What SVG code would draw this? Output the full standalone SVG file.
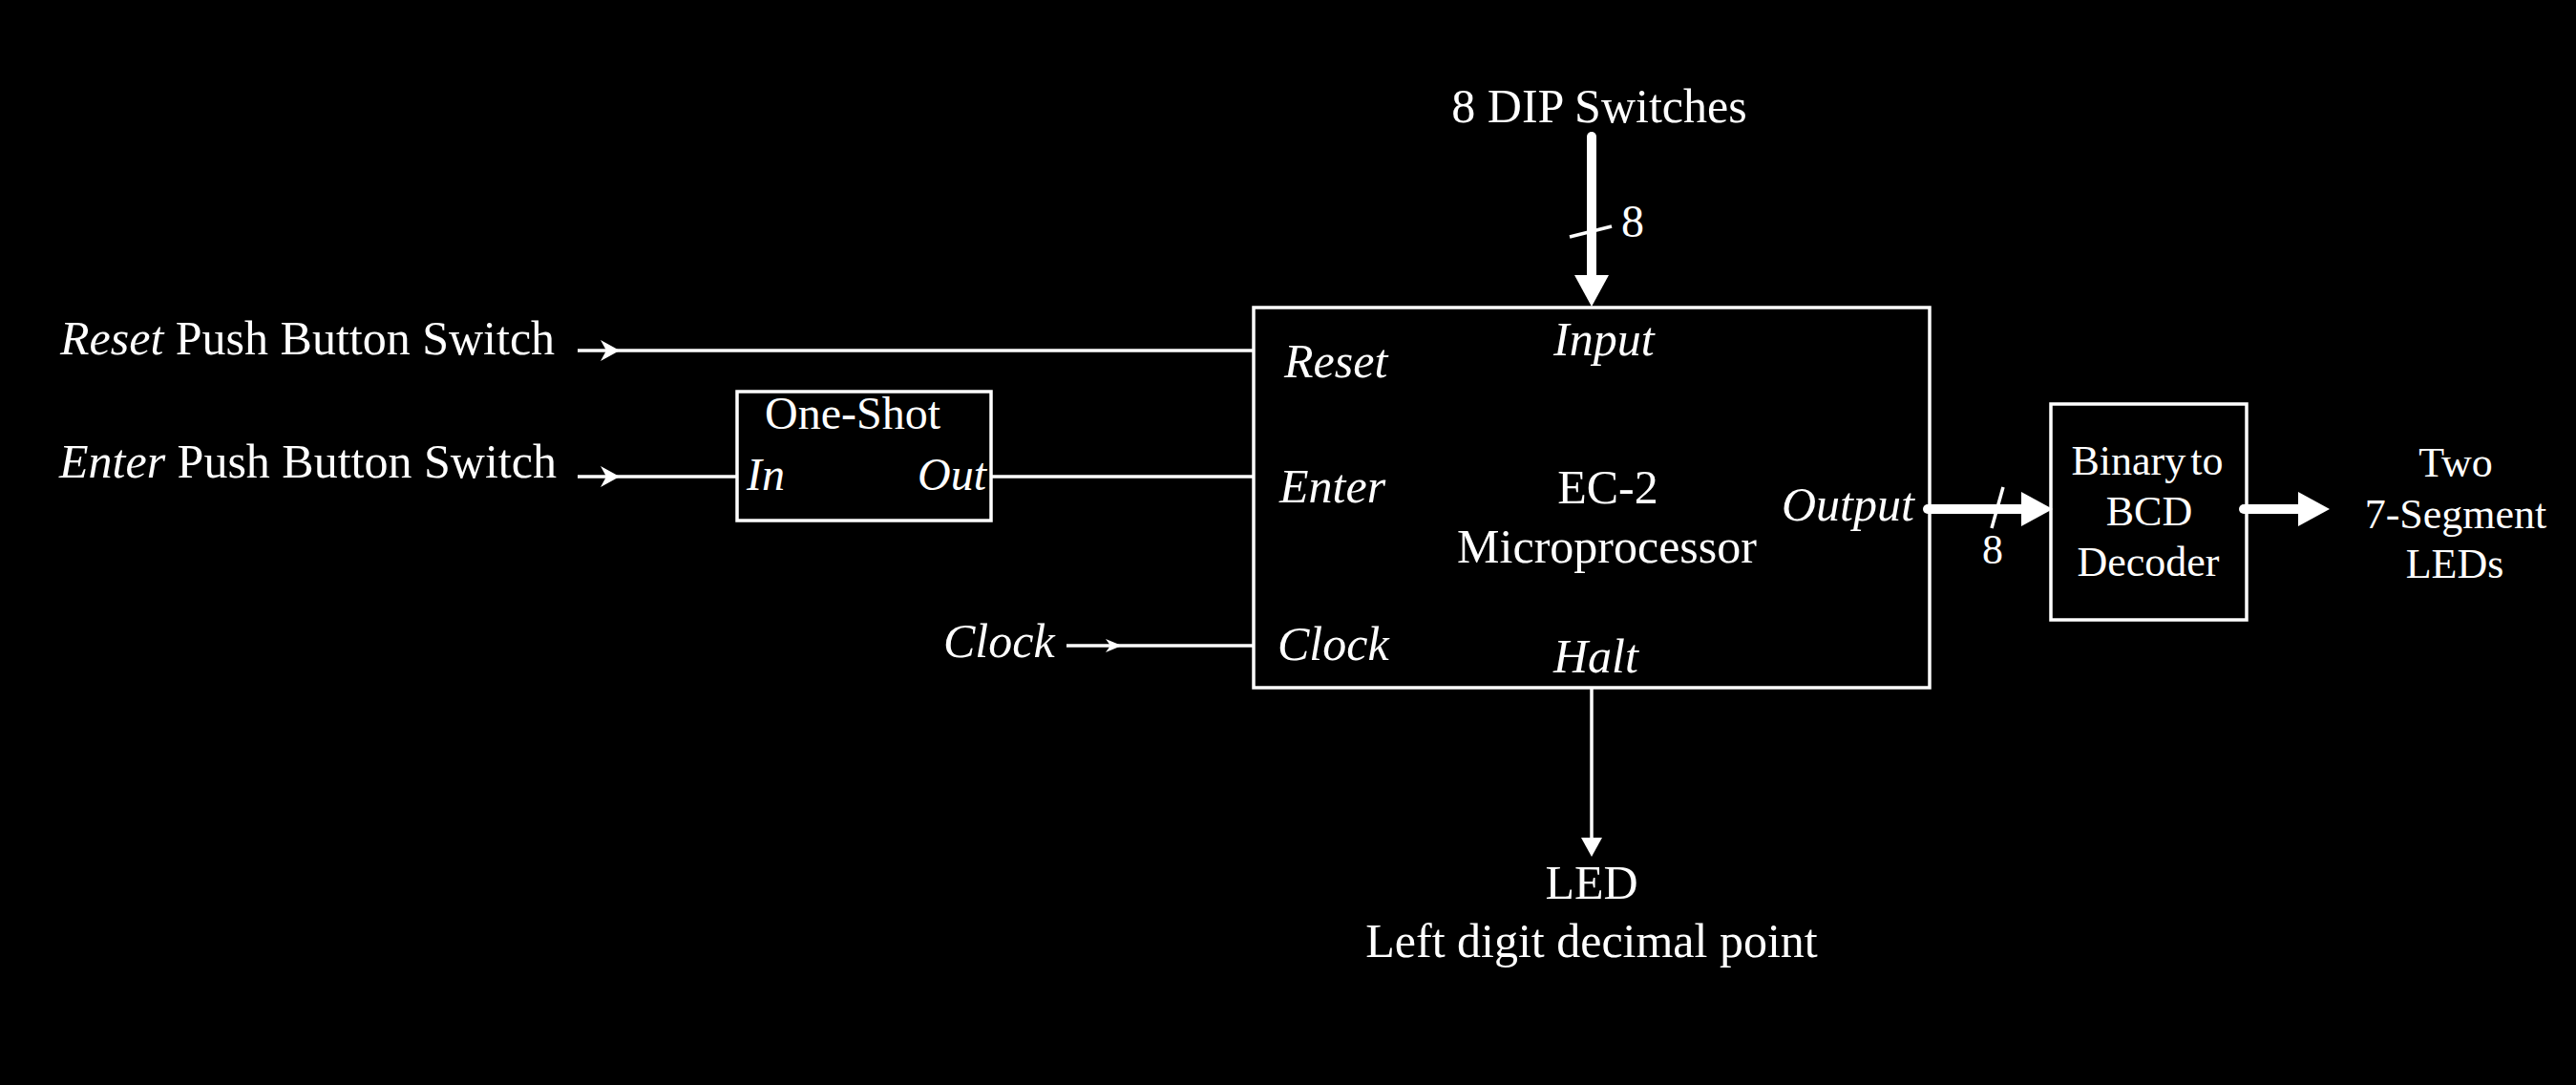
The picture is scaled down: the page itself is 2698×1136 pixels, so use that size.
<svg xmlns="http://www.w3.org/2000/svg" xmlns:xlink="http://www.w3.org/1999/xlink" width="2698" height="1136" viewBox="0 0 2698 1136">
<style>
  text { font-family: "Liberation Serif", "Times New Roman", serif; fill: #ffffff; font-size: 50px; }
  .it { font-style: italic; }
  .mid { text-anchor: middle; }
  .sm { font-size: 44px; }
  .md { font-size: 48px; }
  .box { fill: none; stroke: #ffffff; stroke-width: 3.5; }
  .wire { fill: none; stroke: #ffffff; stroke-width: 3.5; }
  .bus { fill: none; stroke: #ffffff; stroke-width: 10; stroke-linecap: round; }
  .head { fill: #ffffff; stroke: none; }
</style>
<defs>
  <path id="arrS" d="M0,0 L-20,-11 L-14,0 L-20,11 Z"/>
  <path id="arrC" d="M0,0 L-17,-7 L-12,0 L-17,7 Z"/>
  <path id="arrB" d="M0,0 L-33,-18 L-33,18 Z"/>
  <path id="arrT" d="M0,0 L-20,-11 L-20,11 Z"/>
</defs>
<rect x="0" y="0" width="2698" height="1136" fill="#000000"/>

<g id="connectors">
  <path class="wire" d="M605,367 H1313"/>
  <use xlink:href="#arrS" class="head" transform="translate(649,367)"/>
  <path class="wire" d="M605,499 H772"/>
  <use xlink:href="#arrS" class="head" transform="translate(649,499)"/>
  <path class="wire" d="M1038,499 H1313"/>
  <path class="wire" d="M1117,676 H1313"/>
  <use xlink:href="#arrC" class="head" transform="translate(1175,676)"/>
  <path class="bus" d="M1667,143 V292"/>
  <use xlink:href="#arrB" class="head" transform="translate(1667,321) rotate(90)"/>
  <path class="wire" d="M1644,248 L1688,237"/>
  <path class="bus" d="M2019,533 H2120"/>
  <use xlink:href="#arrB" class="head" transform="translate(2150,533)"/>
  <path class="wire" d="M2098,510 L2086,553"/>
  <path class="bus" d="M2350,533 H2410"/>
  <use xlink:href="#arrB" class="head" transform="translate(2440,533)"/>
  <path class="wire" d="M1667,720 V880"/>
  <use xlink:href="#arrT" class="head" transform="translate(1667,897) rotate(90)"/>
</g>

<g id="reset-switch">
  <text x="63" y="371"><tspan class="it">Reset</tspan> Push Button Switch</text>
</g>
<g id="enter-switch">
  <text x="62" y="500"><tspan class="it">Enter</tspan> Push Button Switch</text>
</g>
<g id="clock-source">
  <text class="it" x="988" y="688">Clock</text>
</g>
<g id="one-shot">
  <rect class="box" x="772" y="410" width="266" height="135"/>
  <text class="md mid" x="893" y="449">One-Shot</text>
  <text class="md it" x="782" y="513">In</text>
  <text class="md it" x="1033" y="513" text-anchor="end">Out</text>
</g>
<g id="dip-switches">
  <text class="mid" x="1675" y="128">8 DIP Switches</text>
  <text class="md" x="1698" y="248">8</text>
</g>
<g id="microprocessor">
  <rect class="box" x="1313" y="322" width="708" height="398"/>
  <text class="it" x="1627" y="372">Input</text>
  <text class="it" x="1345" y="395">Reset</text>
  <text class="it" x="1340" y="526">Enter</text>
  <text class="it" x="1338" y="691">Clock</text>
  <text class="mid" x="1684" y="527">EC-2</text>
  <text class="mid" x="1683" y="589">Microprocessor</text>
  <text class="it" x="1627" y="704">Halt</text>
  <text class="it" x="1866" y="545">Output</text>
</g>
<g id="bus-width">
  <text class="sm" x="2076" y="590">8</text>
</g>
<g id="bcd-decoder">
  <rect class="box" x="2148" y="423" width="205" height="226"/>
  <text class="sm mid" x="2249" y="497" word-spacing="-6">Binary to</text>
  <text class="sm mid" x="2251" y="550">BCD</text>
  <text class="sm mid" x="2250" y="603">Decoder</text>
</g>
<g id="seven-segment">
  <text class="sm mid" x="2572" y="499">Two</text>
  <text class="sm mid" x="2572" y="553">7-Segment</text>
  <text class="sm mid" x="2571" y="605">LEDs</text>
</g>
<g id="led">
  <text class="mid" x="1667" y="941">LED</text>
  <text class="mid" x="1667" y="1002">Left digit decimal point</text>
</g>
</svg>
